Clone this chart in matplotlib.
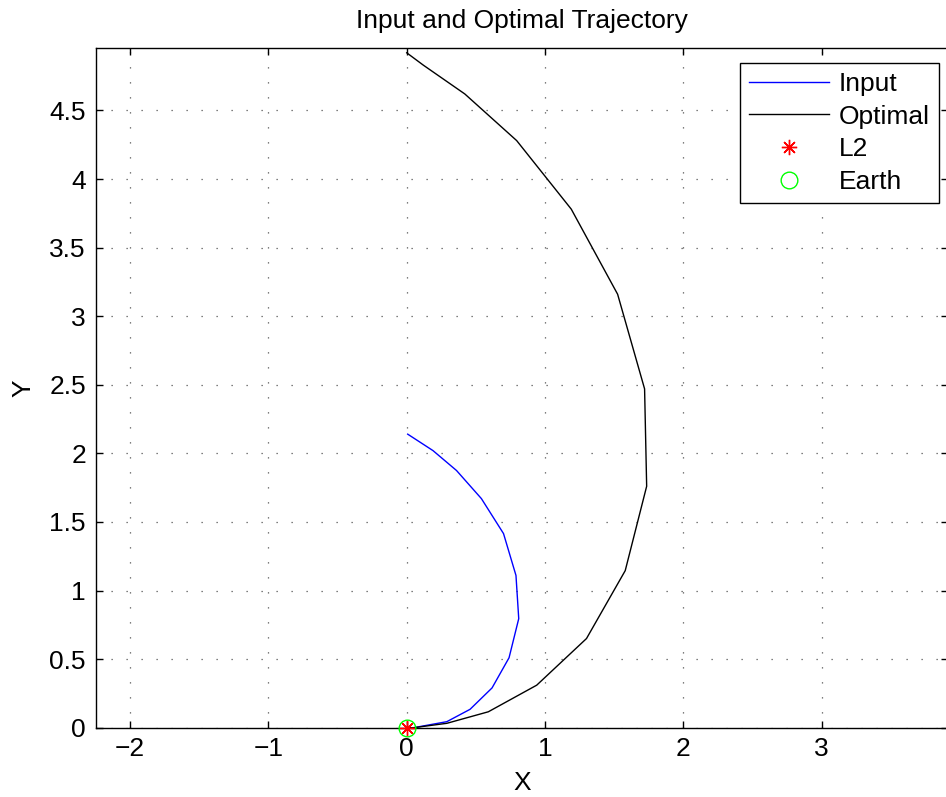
import matplotlib
matplotlib.use("Agg")
import matplotlib.pyplot as plt

plt.rcParams['font.family'] = ['Liberation Sans', 'DejaVu Sans']

# trajectory samples (nondimensional X, Y)
input_x = [0.0, 0.05, 0.29, 0.458, 0.617, 0.74, 0.81, 0.79, 0.70, 0.54, 0.36, 0.19, 0.007]
input_y = [0.0, 0.0, 0.044, 0.134, 0.29, 0.51, 0.795, 1.11, 1.415, 1.67, 1.875, 2.02, 2.14]

optimal_x = [0.0, 0.05, 0.29, 0.59, 0.94, 1.30, 1.58, 1.735, 1.72, 1.525, 1.19, 0.795, 0.42, 0.12, 0.0]
optimal_y = [0.0, 0.0, 0.032, 0.116, 0.31, 0.65, 1.145, 1.76, 2.47, 3.16, 3.78, 4.28, 4.62, 4.83, 4.92]

l2_pos = (0.0, 0.0)
earth_pos = (0.0, 0.0)

W, H = 946, 797
fig = plt.figure(figsize=(W / 100, H / 100), dpi=100)
left, right, top, bottom = 95.7, 948.0, 48.0, 727.7
ax = fig.add_axes([left / W, 1 - bottom / H, (right - left) / W, (bottom - top) / H])

ax.plot(input_x, input_y, color='#0000ff', lw=1.0, label='Input')
ax.plot(optimal_x, optimal_y, color='black', lw=1.0, label='Optimal')
ax.plot(*l2_pos, linestyle='none', marker=(8, 2, 0), color='#ff0000',
        markersize=11, markeredgewidth=1.0, label='L2', clip_on=False, zorder=5)
ax.plot(*earth_pos, linestyle='none', marker='o', markerfacecolor='none',
        markeredgecolor='#00ff00', markersize=12, markeredgewidth=1.0,
        label='Earth', clip_on=False, zorder=5)

ax.set_xlim(-2.249, 3.914)
ax.set_ylim(0, 4.955)
ax.set_xticks([-2, -1, 0, 1, 2, 3])
ax.set_xticklabels(['\u22122', '\u22121', '0', '1', '2', '3'])
ax.set_yticks([0, 0.5, 1, 1.5, 2, 2.5, 3, 3.5, 4, 4.5])
ax.set_yticklabels(['0', '0.5', '1', '1.5', '2', '2.5', '3', '3.5', '4', '4.5'])
ax.tick_params(direction='in', length=5, width=1.0, top=True, right=True,
               labelsize=19, pad=7)
for s in ax.spines.values():
    s.set_linewidth(1.0)

ax.grid(True, color='#555555', linestyle=(0, (1, 11)), linewidth=0.9)

ax.set_title('Input and Optimal Trajectory', fontsize=19, pad=14.5)
ax.set_xlabel('X', fontsize=19, labelpad=7)
ax.set_ylabel('Y', fontsize=19, labelpad=10)

leg = ax.legend(loc='upper right', bbox_to_anchor=(939.3 / W, 1 - 62.7 / H),
                bbox_transform=fig.transFigure, fontsize=19, frameon=True,
                fancybox=False, edgecolor='black', framealpha=1.0,
                handlelength=3.0, handletextpad=0.4, labelspacing=0.33,
                borderpad=0.35, borderaxespad=0)
leg.get_frame().set_linewidth(1.0)

fig.savefig('out.png', dpi=100)
